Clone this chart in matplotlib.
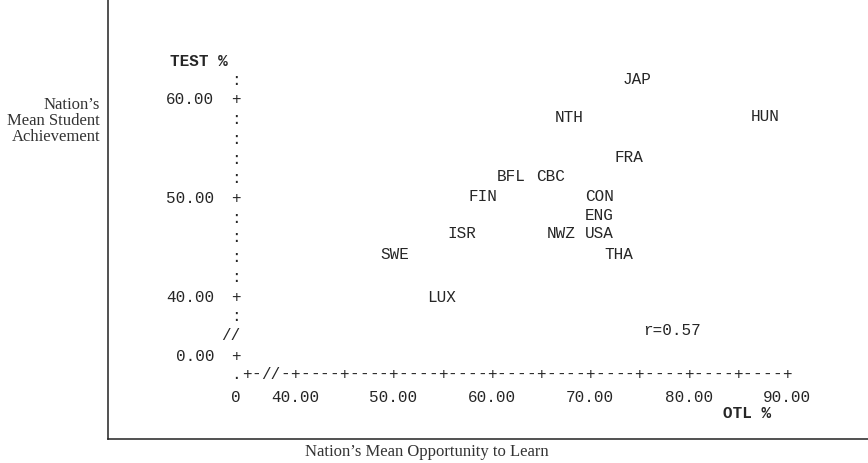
import matplotlib
matplotlib.use("Agg")
import matplotlib.pyplot as plt
import numpy as np

# Country codes and where their labels sit on the typewriter plot
COUNTRIES = ["JAP", "NTH", "HUN", "FRA", "BFL", "CBC", "FIN", "CON",
             "ENG", "ISR", "NWZ", "USA", "THA", "SWE", "LUX"]
OTL = [74.8, 67.9, 87.8, 73.9, 62.0, 66.0, 59.1, 70.9,
       70.9, 57.0, 67.0, 70.9, 72.9, 50.1, 54.9]
TEST = [62.1, 58.2, 58.3, 54.2, 52.2, 52.2, 50.2, 50.2,
        48.3, 46.4, 46.4, 46.4, 44.3, 44.3, 40.0]

X_TICKS = [40, 50, 60, 70, 80, 90]
Y_TICKS = [40, 50, 60]
R_TEXT = "r=0.57"

# broken-axis position used for the "0" origin
ZERO_POS = 34.0

MONO = "Liberation Mono"
SERIF = "Liberation Serif"
INK = "#262626"
FS = 11.5

fig = plt.figure(figsize=(8.68, 4.64), dpi=100)

# outer frame (left + bottom rule)
frame = fig.add_axes([108 / 868, 24 / 464, 760 / 868, 440 / 464])
frame.set_facecolor("none")
for side in ("top", "right"):
    frame.spines[side].set_visible(False)
for side in ("left", "bottom"):
    frame.spines[side].set_color("#222222")
    frame.spines[side].set_linewidth(1.1)
frame.set_xticks([])
frame.set_yticks([])

fig.text(100 / 868, 1 - 121 / 464, "Nation’s\nMean Student\nAchievement",
         ha="right", va="center", family=SERIF, fontsize=12,
         linespacing=0.98, color="#333333")
fig.text(427 / 868, 1 - 452 / 464, "Nation’s Mean Opportunity to Learn",
         ha="center", va="center", family=SERIF, fontsize=12, color="#333333")

# inner typewriter chart, data coords mapped onto the full figure
ax = fig.add_axes([0, 0, 1, 1])
ax.set_xlim(10.02, 98.23)
ax.set_ylim(23.05, 70.15)
ax.axis("off")
ax.patch.set_alpha(0)


def tw(x, y, s, **kw):
    opts = dict(ha="center", va="center", family=MONO, fontsize=FS, color=INK)
    opts.update(kw)
    ax.text(x, y, s, **opts)


# y axis: '+' at ticks, ':' every 2 units
y_axis_x = ZERO_POS
for yv in Y_TICKS:
    tw(y_axis_x, yv, "+")
    tw(31.8, yv, f"{yv:.2f}", ha="right")
tw(y_axis_x, ZERO_POS, "+")
tw(31.8, ZERO_POS, "0.00", ha="right")
for yv in range(38, 63, 2):
    if yv % 10:
        tw(y_axis_x, yv, ":")
tw(33.5, 36.1, "//")
tw(30.2, 63.9, "TEST %", fontweight="bold")

# x axis row
x_axis_y = 32.1
tw(ZERO_POS, x_axis_y, ".")
tw(35.1, x_axis_y, "+")
tw(36.1, x_axis_y, "-")
tw(37.5, x_axis_y, "//")
tw(39.0, x_axis_y, "-")
for xv in range(40, 91):
    tw(xv, x_axis_y, "+" if xv % 5 == 0 else "-")
for xv in X_TICKS:
    tw(xv, 29.8, f"{xv:.2f}")
tw(ZERO_POS, 29.8, "0")
tw(85.9, 28.2, "OTL %", fontweight="bold")

# country labels mark the data points
for name, xv, yv in zip(COUNTRIES, OTL, TEST):
    tw(xv, yv, name)

tw(78.3, 36.6, R_TEXT)

fig.savefig("out.png", dpi=100)
